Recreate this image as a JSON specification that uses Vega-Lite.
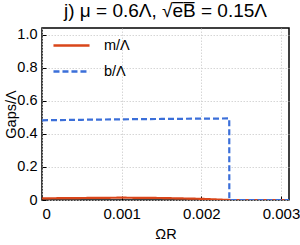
{
  "$schema": "https://vega.github.io/schema/vega-lite/v6.json",
  "width": 247,
  "height": 172,
  "autosize": {"type": "none"},
  "padding": {"left": 42, "top": 28, "right": 11, "bottom": 45},
  "background": "white",
  "title": {"text": "j) μ = 0.6Λ, √e̅B̅ = 0.15Λ", "font": "Liberation Sans", "fontSize": 19, "fontWeight": "normal", "color": "#000", "offset": 5},
  "config": {
    "view": {"stroke": "#000", "strokeWidth": 1.5},
    "axis": {"labelFont": "Liberation Sans", "titleFont": "Liberation Sans", "labelFontSize": 15, "titleFontSize": 14.5, "titleFontWeight": "normal", "labelColor": "#000", "titleColor": "#000", "domain": false, "tickColor": "#000", "tickSize": -4, "gridColor": "#cccccc", "gridDash": [1.5, 1.5], "gridWidth": 0.8}
  },
  "data": {"values": [
    {"x": 0, "y": 0.01, "s": "m/Λ"},
    {"x": 0.0005, "y": 0.012, "s": "m/Λ"},
    {"x": 0.001, "y": 0.014, "s": "m/Λ"},
    {"x": 0.0015, "y": 0.012, "s": "m/Λ"},
    {"x": 0.002, "y": 0.007, "s": "m/Λ"},
    {"x": 0.00235, "y": 0.0, "s": "m/Λ"},
    {"x": 0.0031, "y": 0.0, "s": "m/Λ"},
    {"x": 0, "y": 0.482, "s": "b/Λ"},
    {"x": 0.0005, "y": 0.485, "s": "b/Λ"},
    {"x": 0.001, "y": 0.488, "s": "b/Λ"},
    {"x": 0.0015, "y": 0.49, "s": "b/Λ"},
    {"x": 0.002, "y": 0.492, "s": "b/Λ"},
    {"x": 0.00235, "y": 0.493, "s": "b/Λ"},
    {"x": 0.002351, "y": 0.0, "s": "b/Λ"},
    {"x": 0.0031, "y": 0.0, "s": "b/Λ"}
  ]},
  "mark": {"type": "line", "strokeWidth": 2.2, "clip": true},
  "encoding": {
    "x": {"field": "x", "type": "quantitative", "scale": {"domain": [0, 0.0031], "nice": false}, "axis": {"values": [0, 0.001, 0.002, 0.003], "format": "~g", "title": "ΩR", "titlePadding": 6, "labelPadding": 10}},
    "y": {"field": "y", "type": "quantitative", "scale": {"domain": [0, 1.04], "nice": false}, "axis": {"values": [0, 0.2, 0.4, 0.6, 0.8, 1.0], "labelExpr": "datum.value == 0 ? '0' : format(datum.value, '.1f')", "labelFontSize": 14.5, "title": "Gaps/Λ", "titlePadding": -2, "labelPadding": 9}},
    "color": {"field": "s", "type": "nominal", "scale": {"domain": ["m/Λ", "b/Λ"], "range": ["#d9461a", "#3b6fd9"]}, "legend": {"title": null, "orient": "none", "legendX": 10, "legendY": -2, "symbolType": "stroke", "symbolSize": 1300, "symbolStrokeWidth": 2.5, "labelFont": "Liberation Sans", "labelFontSize": 14.5, "labelColor": "#000", "rowPadding": -9, "labelOffset": 13}},
    "strokeDash": {"field": "s", "type": "nominal", "scale": {"domain": ["m/Λ", "b/Λ"], "range": [[1, 0], [6, 3]]}},
    "order": {"field": "x", "type": "quantitative"}
  }
}
